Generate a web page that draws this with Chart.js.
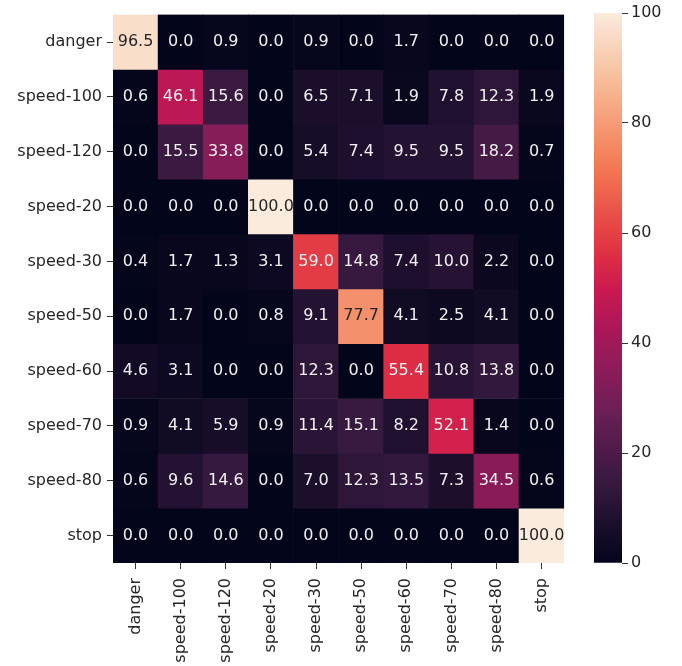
<!DOCTYPE html>
<html>
<head>
<meta charset="utf-8">
<script src="https://cdn.jsdelivr.net/npm/chart.js@4.4.0/dist/chart.umd.min.js"></script>
<style>
    html, body { margin: 0; padding: 0; background: #ffffff; overflow: hidden; }
    #matriz { position: absolute; left: 0; top: 0; width: 570px; height: 666px; }
    #barra { position: absolute; left: 570px; top: 0; width: 112px; height: 666px; }
</style>
</head>
<body>
<div id="matriz"><canvas id="canvasMatriz"></canvas></div>
<div id="barra"><canvas id="canvasBarra"></canvas></div>
<script>
// Clases (filas = real, columnas = predicha)
const clases = ['danger', 'speed-100', 'speed-120', 'speed-20', 'speed-30', 'speed-50', 'speed-60', 'speed-70', 'speed-80', 'stop'];

// Porcentajes por fila
const filaDanger   = [96.5, 0.0, 0.9, 0.0, 0.9, 0.0, 1.7, 0.0, 0.0, 0.0];
const filaSpeed100 = [0.6, 46.1, 15.6, 0.0, 6.5, 7.1, 1.9, 7.8, 12.3, 1.9];
const filaSpeed120 = [0.0, 15.5, 33.8, 0.0, 5.4, 7.4, 9.5, 9.5, 18.2, 0.7];
const filaSpeed20  = [0.0, 0.0, 0.0, 100.0, 0.0, 0.0, 0.0, 0.0, 0.0, 0.0];
const filaSpeed30  = [0.4, 1.7, 1.3, 3.1, 59.0, 14.8, 7.4, 10.0, 2.2, 0.0];
const filaSpeed50  = [0.0, 1.7, 0.0, 0.8, 9.1, 77.7, 4.1, 2.5, 4.1, 0.0];
const filaSpeed60  = [4.6, 3.1, 0.0, 0.0, 12.3, 0.0, 55.4, 10.8, 13.8, 0.0];
const filaSpeed70  = [0.9, 4.1, 5.9, 0.9, 11.4, 15.1, 8.2, 52.1, 1.4, 0.0];
const filaSpeed80  = [0.6, 9.6, 14.6, 0.0, 7.0, 12.3, 13.5, 7.3, 34.5, 0.6];
const filaStop     = [0.0, 0.0, 0.0, 0.0, 0.0, 0.0, 0.0, 0.0, 0.0, 100.0];

const filas = [filaDanger, filaSpeed100, filaSpeed120, filaSpeed20, filaSpeed30,
               filaSpeed50, filaSpeed60, filaSpeed70, filaSpeed80, filaStop];

// Marcas de la barra de colores
const marcasBarra = [0, 20, 40, 60, 80, 100];

// Paleta "rocket" (seaborn), muestreada en puntos fijos
const paleta = [
    [0 / 7, '#03051a'],
    [1 / 7, '#35193e'],
    [2 / 7, '#701f57'],
    [3 / 7, '#ad1759'],
    [0.5,   '#cc1a50'],
    [4 / 7, '#e13342'],
    [5 / 7, '#f37651'],
    [6 / 7, '#f6b48f'],
    [7 / 7, '#faebdd']
];

const VMIN = 0;
const VMAX = 100;

function hexARgb(hex) {
    return [1, 3, 5].map(i => parseInt(hex.substr(i, 2), 16));
}

function rgbDe(valor) {
    const t = Math.min(1, Math.max(0, (valor - VMIN) / (VMAX - VMIN)));
    for (let i = 1; i < paleta.length; i++) {
        if (t <= paleta[i][0]) {
            const [t0, c0] = paleta[i - 1];
            const [t1, c1] = paleta[i];
            const f = (t - t0) / (t1 - t0);
            const a = hexARgb(c0), b = hexARgb(c1);
            return a.map((v, k) => Math.round(v + (b[k] - v) * f));
        }
    }
    return hexARgb(paleta[paleta.length - 1][1]);
}

function colorDe(valor) {
    return `rgb(${rgbDe(valor).join(',')})`;
}

// Texto oscuro sobre celdas claras, blanco sobre oscuras
function colorTexto(valor) {
    const lineal = rgbDe(valor).map(v => {
        const c = v / 255;
        return c <= 0.03928 ? c / 12.92 : Math.pow((c + 0.055) / 1.055, 2.4);
    });
    const lum = 0.2126 * lineal[0] + 0.7152 * lineal[1] + 0.0722 * lineal[2];
    return lum > 0.3 ? '#262626' : '#f0f0f0';
}

Chart.defaults.font.family = "'DejaVu Sans', sans-serif";
Chart.defaults.font.size = 16;
Chart.defaults.color = '#262626';

// Cada fila es un dataset de barras flotantes [fila, fila + 1]
const datasets = filas.map((fila, r) => ({
    label: clases[r],
    data: fila.map(() => [r, r + 1]),
    valores: fila,
    backgroundColor: fila.map(v => colorDe(v)),
    borderWidth: 0,
    grouped: false,
    barPercentage: 1,
    categoryPercentage: 1
}));

const anotaciones = {
    id: 'anotaciones',
    afterDatasetsDraw(chart) {
        const ctx = chart.ctx;
        ctx.save();
        ctx.font = "16px 'DejaVu Sans', sans-serif";
        ctx.textAlign = 'center';
        ctx.textBaseline = 'middle';
        chart.data.datasets.forEach((ds, i) => {
            chart.getDatasetMeta(i).data.forEach((barra, j) => {
                const v = ds.valores[j];
                ctx.fillStyle = colorTexto(v);
                ctx.fillText(v.toFixed(1), barra.x, (barra.y + barra.base) / 2);
            });
        });
        ctx.restore();
    }
};

const ejeComun = {
    grid: { drawOnChartArea: false, drawTicks: true, tickLength: 6, color: '#333333', offset: false },
    border: { display: false }
};

new Chart(document.getElementById('canvasMatriz'), {
    type: 'bar',
    data: { labels: clases, datasets: datasets },
    options: {
        responsive: true,
        maintainAspectRatio: false,
        animation: false,
        layout: { padding: { top: 13, right: 4, left: 0, bottom: 0 } },
        plugins: { legend: { display: false }, tooltip: { enabled: false } },
        scales: {
            x: {
                ...ejeComun,
                type: 'category',
                offset: true,
                ticks: { minRotation: 90, maxRotation: 90, autoSkip: false, padding: 9 },
                afterFit: scale => { scale.height = 103; }
            },
            y: {
                ...ejeComun,
                type: 'linear',
                min: 0,
                max: clases.length,
                reverse: true,
                afterBuildTicks: axis => {
                    axis.ticks = clases.map((_, i) => ({ value: i + 0.5 }));
                },
                ticks: {
                    autoSkip: false,
                    padding: 5,
                    callback: valor => clases[Math.floor(valor)]
                },
                afterFit: scale => { scale.width = 113; }
            }
        }
    },
    plugins: [anotaciones]
});

// Barra de colores: una sola barra flotante con degradado
function degradado(context) {
    const area = context.chart.chartArea;
    if (!area) return colorDe(VMIN);
    const g = context.chart.ctx.createLinearGradient(0, area.bottom, 0, area.top);
    for (let i = 0; i <= 50; i++) {
        g.addColorStop(i / 50, colorDe(VMIN + (VMAX - VMIN) * i / 50));
    }
    return g;
}

new Chart(document.getElementById('canvasBarra'), {
    type: 'bar',
    data: {
        labels: [''],
        datasets: [{
            data: [[VMIN, VMAX]],
            backgroundColor: degradado,
            borderWidth: 0,
            barPercentage: 1,
            categoryPercentage: 1
        }]
    },
    options: {
        responsive: true,
        maintainAspectRatio: false,
        animation: false,
        layout: { padding: { top: 13, bottom: 103, left: 24, right: 0 } },
        plugins: { legend: { display: false }, tooltip: { enabled: false } },
        scales: {
            x: { display: false },
            y: {
                ...ejeComun,
                position: 'right',
                min: VMIN,
                max: VMAX,
                afterBuildTicks: axis => {
                    axis.ticks = marcasBarra.map(v => ({ value: v }));
                },
                ticks: { padding: 3 },
                afterFit: scale => { scale.width = 60; }
            }
        }
    }
});
</script>
</body>
</html>
